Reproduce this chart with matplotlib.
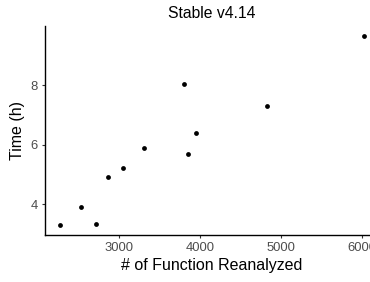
import matplotlib
matplotlib.use("Agg")
import matplotlib.pyplot as plt

# functions reanalyzed vs. analysis time (hours)
n_functions = [2274, 2541, 2722, 2865, 3054, 3308, 3854, 3812, 3952, 4829, 6022]
time_h = [3.30, 3.92, 3.34, 4.91, 5.24, 5.89, 5.70, 8.05, 6.40, 7.30, 9.68]
x_ticks = [3000, 4000, 5000, 6000]
y_ticks = [4, 6, 8]

plt.rcParams['font.family'] = ['Liberation Sans', 'DejaVu Sans']

fig = plt.figure(figsize=(3.7, 2.82), dpi=100)
# axes run a bit past the right edge, like the original (6000 label is clipped)
ax = fig.add_axes([0.1203, 0.1677, 0.904, 0.740])

ax.scatter(n_functions, time_h, s=12, color='black', linewidths=0, zorder=3)

# ggplot-style 5% expansion
xr = max(n_functions) - min(n_functions)
yr = max(time_h) - min(time_h)
ax.set_xlim(min(n_functions) - 0.05 * xr, max(n_functions) + 0.05 * xr)
ax.set_ylim(min(time_h) - 0.05 * yr, max(time_h) + 0.05 * yr)

ax.set_xticks(x_ticks)
ax.set_yticks(y_ticks)
ax.tick_params(length=2.5, width=0.8, color='#333333', labelcolor='#4D4D4D',
               labelsize=9.4, pad=2.5)

for side in ['top', 'right']:
    ax.spines[side].set_visible(False)
for side in ['left', 'bottom']:
    ax.spines[side].set_linewidth(1.0)
    ax.spines[side].set_color('black')

ax.set_xlabel('# of Function Reanalyzed', fontsize=11.5, labelpad=3)
ax.set_ylabel('Time (h)', fontsize=11.5, labelpad=4)
ax.set_title('Stable v4.14', fontsize=11.3, pad=6)

fig.savefig('out.png', dpi=100)
